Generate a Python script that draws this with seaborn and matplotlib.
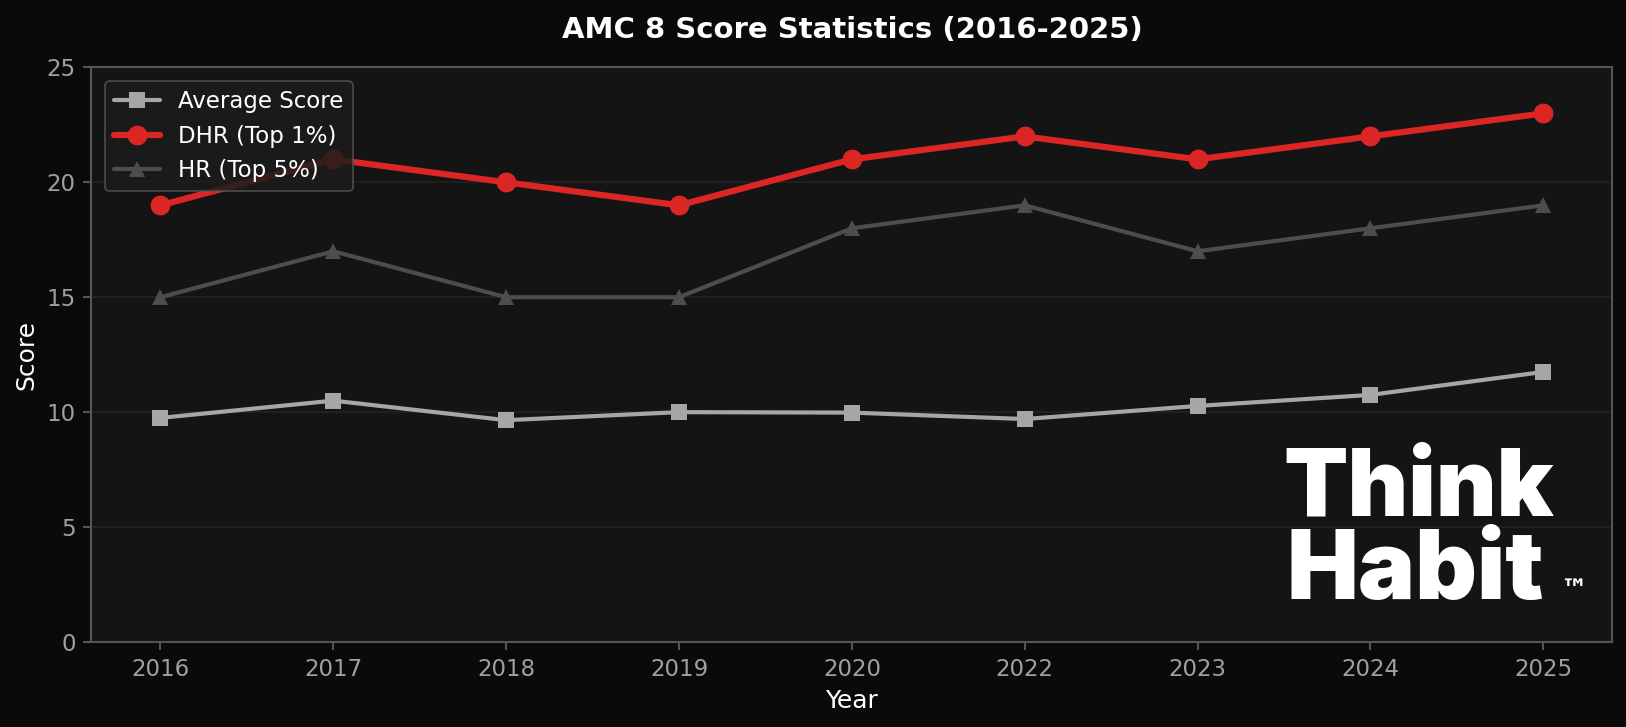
import matplotlib
matplotlib.use("Agg")
import matplotlib.pyplot as plt
import pandas as pd
import seaborn as sns

# data
years = ["2016", "2017", "2018", "2019", "2020", "2022", "2023", "2024", "2025"]
average_score = [9.75, 10.5, 9.65, 10.0, 9.98, 9.7, 10.27, 10.75, 11.75]
dhr_top1 = [19, 21, 20, 19, 21, 22, 21, 22, 23]
hr_top5 = [15, 17, 15, 15, 18, 19, 17, 18, 19]

series = [
    ("Average Score", average_score, "#a6a6a6", "s", 2.0, 7.5),
    ("DHR (Top 1%)", dhr_top1, "#dc2626", "o", 3.0, 9.5),
    ("HR (Top 5%)", hr_top5, "#4d4d4d", "^", 2.0, 7.5),
]

sns.set_theme(style="dark")
plt.rcParams["font.family"] = ["DejaVu Sans"]

W, H = 1568, 701  # reference measured at this scale
fig = plt.figure(figsize=(1627 / 150, 727 / 150), dpi=150, facecolor="#0a0a0a")
ax = fig.add_axes([88 / W, 1 - 619 / H, (1554 - 88) / W, (619 - 65) / H])
ax.set_facecolor("#141414")

for name, vals, color, marker, lw, ms in series:
    df = pd.DataFrame({"Year": years, "Score": vals})
    sns.lineplot(data=df, x="Year", y="Score", ax=ax, color=color, marker=marker,
                 linewidth=lw, markersize=ms, markeredgewidth=0, label=name, sort=False)

ax.set_xlim(-0.4, 8.4)
ax.set_ylim(0, 25)
ax.set_yticks([0, 5, 10, 15, 20, 25])
ax.grid(axis="y", color="#232323", linewidth=0.8)
ax.grid(axis="x", visible=False)
ax.set_axisbelow(True)

for sp in ax.spines.values():
    sp.set_color("#555555")
    sp.set_linewidth(1)
    sp.set_visible(True)

ax.tick_params(axis="both", colors="#555555", labelcolor="#a0a0a0", labelsize=11,
               length=4, width=1, bottom=True, left=True)
ax.set_xlabel("Year", color="white", fontsize=12)
ax.set_ylabel("Score", color="white", fontsize=12)
ax.set_title("AMC 8 Score Statistics (2016-2025)", color="white", fontsize=14,
             fontweight="bold", pad=14)

leg = ax.legend(loc="upper left", fontsize=11, facecolor="#1c1c1c", edgecolor="#555555",
                framealpha=0.85, labelcolor="white", borderaxespad=0.6)
leg.get_frame().set_linewidth(0.8)

# watermark logo
logo_font = ["Inter", "DejaVu Sans"]
fig.text(1237 / W, 1 - 497 / H, "Think", color="white", fontsize=45,
         fontweight="black", family=logo_font, va="baseline", ha="left")
fig.text(1240 / W, 1 - 578 / H, "Habit", color="white", fontsize=46,
         fontweight="black", family=logo_font, va="baseline", ha="left")
fig.text(1504 / W, 1 - 577 / H, "™", color="white", fontsize=13,
         fontweight="heavy", family=["DejaVu Sans"], va="baseline", ha="left")

fig.savefig("out.png", dpi=150, facecolor=fig.get_facecolor())
